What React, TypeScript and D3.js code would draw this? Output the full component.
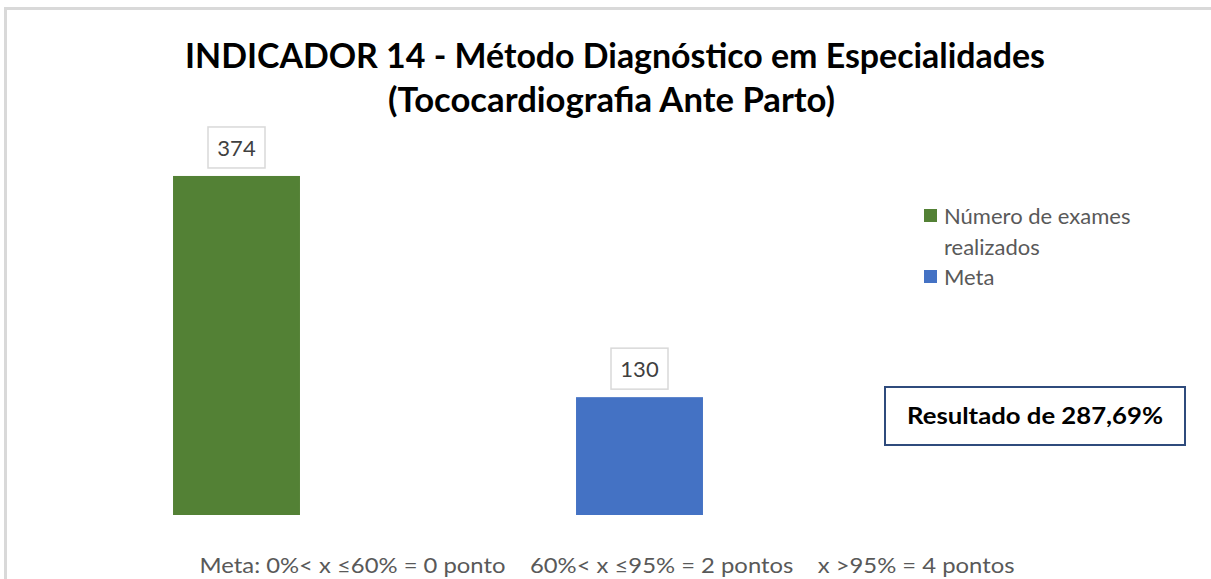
import React from "react";
import * as d3 from "d3";

const categories = ["Número de exames realizados", "Meta"];
const values = [374, 130];
const colors = ["#538135", "#4472C4"];
const legendLines = [["Número de exames", "realizados"], ["Meta"]];
const titleLines = ["INDICADOR 14 - Método Diagnóstico em Especialidades", "(Tococardiografia Ante Parto)"];
const resultText = "Resultado de 287,69%";
const footerText = "Meta: 0%< x ≤60% = 0 ponto    60%< x ≤95% = 2 pontos    x >95% = 4 pontos";

const W = 1211;
const H = 579;
const font = "Lato, 'Open Sans', 'DejaVu Sans', sans-serif";

export default function App() {
  const x = d3.scaleBand<string>().domain(categories).range([35, 841]).paddingInner(0.685).paddingOuter(0.3425);
  const y = d3.scaleLinear().domain([0, 400]).range([515, 152.4]);

  return (
    <svg width={W} height={H} style={{ position: "absolute", left: 0, top: 0 }}>
      <rect x={0} y={0} width={W} height={H} fill="#fff" />
      <rect x={5.5} y={8.5} width={W + 10} height={H + 10} fill="#fff" stroke="#d9d9d9" strokeWidth={3} />
      <text x={615} y={68} textAnchor="middle" fontFamily={font} fontWeight="bold" fontSize={34} fill="#000" textLength={860} lengthAdjust="spacingAndGlyphs">{titleLines[0]}</text>
      <text x={611.5} y={112} textAnchor="middle" fontFamily={font} fontWeight="bold" fontSize={34} fill="#000" textLength={447} lengthAdjust="spacingAndGlyphs">{titleLines[1]}</text>
      {categories.map((c, i) => {
        const bx = x(c)!;
        const bw = x.bandwidth();
        const cx = bx + bw / 2;
        const top = y(values[i]);
        return (
          <g key={c}>
            <rect x={bx} y={top} width={bw} height={y(0) - top} fill={colors[i]} />
            <rect x={cx - 28.5} y={top - 49} width={57} height={41} fill="#fff" stroke="#d9d9d9" strokeWidth={1.5} />
            <text x={cx} y={top - 20} textAnchor="middle" fontFamily={font} fontSize={22} fill="#404040">{values[i]}</text>
          </g>
        );
      })}
      {legendLines.map((lines, i) => {
        const ly = i === 0 ? 209 : 270;
        return (
          <g key={i}>
            <rect x={924} y={ly} width={13} height={13} fill={colors[i]} />
            {lines.map((t, j) => (
              <text key={j} x={944} y={ly + 15 + j * 31} fontFamily={font} fontSize={22} fill="#595959">{t}</text>
            ))}
          </g>
        );
      })}
      <rect x={885} y={387} width={300} height={58} fill="#fff" stroke="#2F4B7C" strokeWidth={2} />
      <text x={1035} y={424} textAnchor="middle" fontFamily={font} fontWeight="bold" fontSize={22} fill="#000" textLength={256} lengthAdjust="spacingAndGlyphs">{resultText}</text>
      <text x={607} y={573} textAnchor="middle" fontFamily={font} fontSize={22} fill="#595959" textLength={815} lengthAdjust="spacingAndGlyphs" style={{ whiteSpace: "pre" }}>{footerText}</text>
    </svg>
  );
}
